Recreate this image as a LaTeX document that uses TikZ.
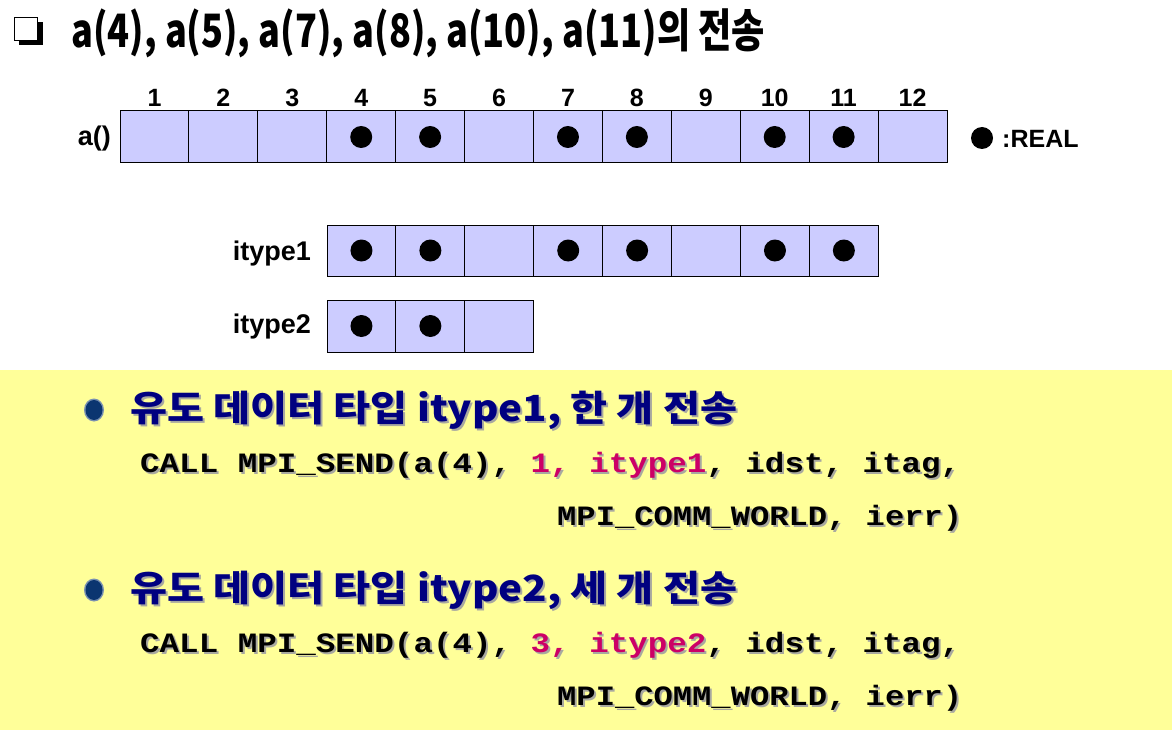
\documentclass[tikz,border=0pt]{standalone}
\usepackage{fontspec}
\usepackage{graphicx}
\setmainfont{Liberation Sans}
\newfontfamily\kr{Noto Sans CJK KR}
\newfontfamily\codefnt{Liberation Mono}
\definecolor{bandyellow}{HTML}{FFFF99}
\definecolor{celllav}{HTML}{CCCCFF}
\definecolor{navytxt}{HTML}{000080}
\definecolor{codemag}{HTML}{CC0066}
\definecolor{shadowgray}{HTML}{A8A8A0}
\definecolor{bulletnavy}{HTML}{0B3570}
\newcommand\mg[1]{{\color{codemag}#1}}
\newcommand\codeA{CALL MPI\_SEND(a(4), \mg{1, itype1}, idst, itag,}
\newcommand\codeB{MPI\_COMM\_WORLD, ierr)}
\newcommand\codeC{CALL MPI\_SEND(a(4), \mg{3, itype2}, idst, itag,}
\newcommand\krA{유도 데이터 타입 itype1, 한 개 전송}
\newcommand\krB{유도 데이터 타입 itype2, 세 개 전송}
\begin{document}
\begin{tikzpicture}[x=1pt,y=-1pt,
  cell/.style={draw=black, line width=1pt, fill=celllav, minimum width=68.917pt, minimum height=52pt, inner sep=0pt, outer sep=0pt},
  numlab/.style={font=\fontsize{25}{25}\selectfont\bfseries, anchor=base, inner sep=0pt},
  rowlab/.style={font=\fontsize{27}{27}\selectfont\bfseries, inner sep=0pt},
  krtxt/.style={font=\kr\fontsize{36}{36}\selectfont\bfseries, anchor=base west, inner sep=0pt},
  codetxt/.style={font=\codefnt\fontsize{28}{28}\selectfont\bfseries, anchor=base west, inner sep=0pt},
  shadowed/.style={text=shadowgray}
]
\useasboundingbox (0,0) rectangle (1172,730);
\fill[bandyellow] (0,370) rectangle (1172,730);

% title
\fill[black] (19,22) rectangle (42.5,45);
\draw[fill=white, line width=1.3pt] (14.5,17.5) rectangle (37.5,40.5);
\node[font=\kr\fontsize{46}{46}\selectfont\bfseries, anchor=base west, inner sep=0pt] (title) at (71,48)
  {\resizebox{694pt}{\height}{a(4), a(5), a(7), a(8), a(10), a(11)의 전송}};

% array a()
\foreach \i in {1,...,12} {
  \node[cell] (a\i) at ({120+(\i-0.5)*68.917},137) {};
  \node[numlab] (n\i) at ({120+(\i-0.5)*68.917},107) {\i};
}
\foreach \i in {4,5,7,8,10,11} \fill (a\i) circle (11);
\node[rowlab, anchor=east] (alab) at (111,139) {a()};

% legend
\fill (982,138) circle (11) coordinate (legdot);
\node[rowlab, font=\fontsize{25}{25}\selectfont\bfseries, anchor=west] (leg) at (1002,139) {:REAL};

% itype1
\foreach \j in {1,...,8} \node[cell, minimum height=51pt] (t\j) at ({327+(\j-0.5)*68.917},250.5) {};
\foreach \j in {1,2,4,5,7,8} \fill (t\j) circle (11);
\node[rowlab, anchor=east] (t1lab) at (311,254) {itype1};

% itype2
\foreach \j in {1,2,3} \node[cell] (u\j) at ({327+(\j-0.5)*68.917},326) {};
\foreach \j in {1,2} \fill (u\j) circle (11);
\node[rowlab, anchor=east] (t2lab) at (311,327) {itype2};

% bullets
\fill[bulletnavy!55!white] (94,410) ellipse (10 and 11.5);
\fill[bulletnavy] (94,410) ellipse (8.5 and 10);
\fill[bulletnavy!55!white] (94,590) ellipse (10 and 11.5);
\fill[bulletnavy] (94,590) ellipse (8.5 and 10);

\node[krtxt, shadowed] (k1s) at (132,423) {\resizebox{607pt}{\height}{\krA}};
\node[krtxt, text=navytxt] (k1) at (130,421) {\resizebox{607pt}{\height}{\krA}};
\node[krtxt, shadowed] (k2s) at (132,603) {\resizebox{607pt}{\height}{\krB}};
\node[krtxt, text=navytxt] (k2) at (130,601) {\resizebox{607pt}{\height}{\krB}};

% code
\node[codetxt, shadowed] (c1s) at (142,474) {\resizebox{820pt}{\height}{\let\mg\relax\codeA}};
\node[codetxt] (c1) at (140,472) {\resizebox{820pt}{\height}{\codeA}};
\node[codetxt, shadowed] (c2s) at (559,527) {\resizebox{405pt}{\height}{\codeB}};
\node[codetxt] (c2) at (557,525) {\resizebox{405pt}{\height}{\codeB}};
\node[codetxt, shadowed] (c3s) at (142,654) {\resizebox{820pt}{\height}{\let\mg\relax\codeC}};
\node[codetxt] (c3) at (140,652) {\resizebox{820pt}{\height}{\codeC}};
\node[codetxt, shadowed] (c4s) at (559,707) {\resizebox{405pt}{\height}{\codeB}};
\node[codetxt] (c4) at (557,705) {\resizebox{405pt}{\height}{\codeB}};
\end{tikzpicture}
\end{document}
